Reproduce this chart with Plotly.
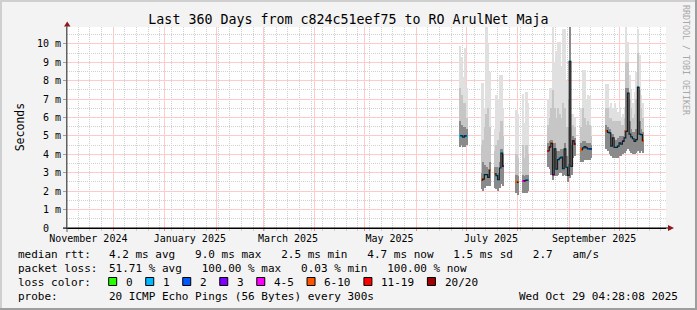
import pandas as pd
import plotly.graph_objects as go

# ---------------- data ----------------
dates = [
    "2025-06-27", "2025-06-28", "2025-06-29", "2025-06-30", "2025-07-01",
    "2025-07-10", "2025-07-11", "2025-07-12", "2025-07-13", "2025-07-14", "2025-07-15",
    "2025-07-18", "2025-07-19", "2025-07-20", "2025-07-21", "2025-07-22", "2025-07-23",
    "2025-07-31", "2025-08-01", "2025-08-04", "2025-08-05", "2025-08-06", "2025-08-07",
    "2025-08-19", "2025-08-20", "2025-08-21", "2025-08-22", "2025-08-23", "2025-08-24",
    "2025-08-25", "2025-08-26", "2025-08-27", "2025-08-28", "2025-08-29", "2025-08-30",
    "2025-08-31", "2025-09-01", "2025-09-02", "2025-09-03", "2025-09-04",
    "2025-09-08", "2025-09-09", "2025-09-10", "2025-09-11", "2025-09-12", "2025-09-13", "2025-09-14",
    "2025-09-23", "2025-09-24", "2025-09-25", "2025-09-26", "2025-09-27", "2025-09-28",
    "2025-09-29", "2025-09-30", "2025-10-01", "2025-10-02", "2025-10-03", "2025-10-04",
    "2025-10-05", "2025-10-06", "2025-10-07", "2025-10-08", "2025-10-09", "2025-10-10",
    "2025-10-11", "2025-10-12", "2025-10-13", "2025-10-14", "2025-10-15",
]
# median round trip time (ms)
median_ms = [
    5.02, 5.00, 4.93, 5.00, 5.00,
    2.60, 2.65, 2.90, 2.90, 2.75, 3.13,
    2.95, 2.85, 2.62, 3.26, 4.07, 3.35,
    2.50, 2.48, 2.55, 2.57, 2.60, 2.60,
    4.20, 4.40, 4.60, 2.90, 4.30, 3.20,
    3.72, 3.80, 3.85, 3.22, 4.30, 3.30,
    2.86, 9.06, 3.35, 4.74, 4.56,
    4.26, 4.35, 4.42, 4.35, 4.30, 4.30, 4.30,
    5.29, 5.20, 5.17, 4.45, 4.90, 4.38,
    4.38, 4.45, 4.62, 4.55, 4.71, 4.90,
    5.25, 7.33, 5.10, 4.95, 4.85, 4.71,
    4.80, 7.64, 5.10, 5.07, 4.75,
]
# loss class index (0:"0" 1:"1" 2:"2" 3:"3" 4:"4-5" 5:"6-10" 6:"11-19" 7:"20/20")
loss_idx = [
    1, 1, 1, 2, 1,
    5, 5, 1, 1, 1, 5,
    5, 1, 1, 1, 1, 3,
    5, 5, 4, 4, 1, 1,
    6, 6, 5, 4, 1, 1,
    1, 1, 1, 1, 1, 1,
    1, 1, 1, 3, 6,
    5, 1, 1, 1, 1, 2, 2,
    5, 1, 1, 1, 1, 1,
    1, 1, 1, 1, 3, 1,
    5, 1, 1, 1, 1, 1,
    1, 1, 1, 1, 5,
]
# smoke: lowest ping, top of dark smoke, top of mid smoke, highest ping (ms)
smoke_low = [
    4.4, 4.5, 4.4, 4.4, 4.5,
    2.1, 2.0, 2.2, 2.3, 2.3, 2.3,
    2.2, 2.1, 2.0, 2.2, 2.4, 2.3,
    1.9, 1.8, 1.9, 1.9, 1.9, 2.0,
    3.3, 3.2, 2.9, 2.6, 2.8, 2.8,
    2.9, 3.0, 3.0, 2.8, 2.9, 2.8,
    2.5, 2.7, 2.9, 3.8, 3.9,
    3.6, 3.6, 3.7, 3.7, 3.7, 3.7, 3.8,
    4.3, 4.2, 4.0, 3.9, 3.8, 3.8,
    3.8, 3.8, 3.9, 3.9, 4.0, 4.1,
    4.2, 4.3, 4.2, 4.1, 4.0, 4.0,
    4.1, 4.2, 4.1, 4.2, 4.1,
]
smoke_dark = [
    5.8, 5.6, 5.5, 5.5, 5.4,
    3.0, 3.6, 3.4, 3.3, 3.2, 3.6,
    3.3, 3.3, 3.0, 3.6, 4.3, 4.0,
    2.9, 2.8, 2.9, 2.8, 2.9, 2.9,
    4.6, 4.7, 4.8, 4.6, 4.6, 4.2,
    4.2, 4.2, 4.3, 4.3, 4.6, 3.9,
    3.5, 10.9, 4.5, 5.0, 4.9,
    4.6, 4.7, 4.7, 4.6, 4.6, 4.6, 4.5,
    5.6, 5.5, 5.4, 5.1, 5.1, 4.8,
    4.8, 4.9, 5.0, 5.0, 5.0, 5.3,
    7.6, 7.6, 5.8, 5.4, 5.2, 5.2,
    5.4, 7.7, 5.8, 5.4, 5.2,
]
smoke_mid = [
    7.6, 7.2, 6.8, 6.8, 6.0,
    4.5, 4.8, 5.5, 6.2, 6.5, 5.5,
    4.2, 4.5, 4.8, 5.2, 5.8, 5.0,
    4.0, 3.8, 4.5, 3.8, 4.5, 4.0,
    5.6, 6.0, 6.5, 7.5, 6.5, 6.0,
    6.5, 6.2, 6.0, 6.8, 6.5, 5.5,
    5.5, 10.9, 5.5, 5.6, 5.5,
    5.5, 6.5, 6.0, 5.6, 5.8, 5.6, 5.0,
    6.5, 6.5, 6.0, 6.0, 5.8, 5.8,
    5.8, 5.8, 5.8, 5.6, 5.6, 6.0,
    9.0, 9.0, 7.0, 6.5, 6.0, 6.2,
    7.0, 9.5, 7.5, 6.5, 6.0,
]
smoke_high = [
    9.9, 9.3, 8.2, 9.8, 7.6,
    7.9, 7.9, 6.5, 10.9, 10.0, 8.5,
    5.4, 7.2, 7.0, 8.3, 8.3, 6.5,
    6.4, 6.2, 7.3, 5.7, 7.4, 6.8,
    7.0, 7.6, 7.6, 10.9, 9.0, 9.6,
    10.1, 10.1, 8.8, 10.8, 10.8, 8.0,
    7.0, 10.9, 6.2, 6.2, 6.0,
    6.5, 8.6, 8.6, 7.0, 7.2, 7.15, 5.5,
    7.8, 7.8, 6.6, 6.8, 6.5, 6.8,
    6.5, 6.3, 6.6, 6.0, 6.2, 6.6,
    10.9, 10.1, 8.3, 7.5, 6.8, 7.4,
    8.5, 10.8, 9.4, 7.2, 6.8,
]

loss_labels = ["0", "1", "2", "3", "4-5", "6-10", "11-19", "20/20"]
loss_colors = ["#26ff00", "#00b8ff", "#0059ff", "#7e00ff", "#ff00ff", "#ff5500", "#ff0000", "#a10000"]

y_tick_vals = [0, 1, 2, 3, 4, 5, 6, 7, 8, 9, 10]
y_tick_text = ["0  ", "1 m", "2 m", "3 m", "4 m", "5 m", "6 m", "7 m", "8 m", "9 m", "10 m"]

x_label_dates = ["2024-11-16", "2025-01-16", "2025-03-16", "2025-05-16", "2025-07-16", "2025-09-16"]
x_label_text = ["November 2024", "January 2025", "March 2025", "May 2025", "July 2025", "September 2025"]

x_start = "2024-11-03 04:28:08"
x_end = "2025-10-29 04:28:08"

title_text = "Last 360 Days from c824c51eef75 to RO ArulNet Maja"
rtt_label = "median rtt:"
rtt_values = "4.2 ms avg   9.0 ms max   2.5 ms min   4.7 ms now   1.5 ms sd   2.7   am/s"
loss_label = "packet loss:"
loss_values = "51.71 % avg   100.00 % max   0.03 % min   100.00 % now"
color_label = "loss color:"
probe_label = "probe:"
probe_values = "20 ICMP Echo Pings (56 Bytes) every 300s"
stamp_text = "Wed Oct 29 04:28:08 2025"
side_text = "RRDTOOL / TOBI OETIKER"

# ---------------- layout helpers ----------------
W, H = 697, 310
ML, MR, MT, MB = 67, 31, 27, 82
PW = W - ML - MR
PH = H - MT - MB
MONO = "DejaVu Sans Mono"


def px(x):
    return (x - ML) / PW


def py(y):
    return (H - MB - y) / PH


def nb(s):
    return s.replace(" ", "\u00a0")


DAY = 86400000
xc = pd.to_datetime(pd.Series(dates)) + pd.Timedelta(hours=12)

fig = go.Figure()


def band(bottom, top, color):
    fig.add_trace(go.Bar(
        x=xc, base=bottom, y=[t - b for t, b in zip(top, bottom)], width=DAY,
        marker=dict(color=color, line=dict(width=0)),
        hoverinfo="skip", showlegend=False,
    ))


band(smoke_low, smoke_high, "#e0e0e0")
band(smoke_low, smoke_mid, "#c6c6c6")
band(smoke_low, smoke_dark, "#8a8a8a")

# connecting median line (break across gaps in the data)
lx, ly = [], []
prev = None
for t, m in zip(xc, median_ms):
    if prev is not None and (t - prev) > pd.Timedelta(days=1):
        lx.append(prev + pd.Timedelta(hours=12))
        ly.append(None)
    lx.append(t)
    ly.append(m)
    prev = t
fig.add_trace(go.Scatter(
    x=lx, y=ly, mode="lines", line=dict(color="#1c1c1c", width=1.2, shape="hvh"),
    connectgaps=False, hoverinfo="skip", showlegend=False,
))

# median coloured by loss
fig.add_trace(go.Bar(
    x=xc, base=[m - 0.06 for m in median_ms], y=[0.12] * len(median_ms), width=DAY,
    marker=dict(color=[loss_colors[i] for i in loss_idx], line=dict(width=0)),
    hoverinfo="skip", showlegend=False,
))

# invisible trace for the label axis
fig.add_trace(go.Scatter(x=[x_start, x_end], y=[0, 0], xaxis="x2", mode="markers",
                         marker=dict(opacity=0), hoverinfo="skip", showlegend=False))

MAJ = "#ffcaca"
MIN = "#d0d0d0"
DASH = "1px,1px"

fig.update_layout(
    width=W, height=H,
    margin=dict(l=ML, r=MR, t=MT, b=MB, pad=0),
    paper_bgcolor="#f3f3f3", plot_bgcolor="#ffffff",
    barmode="overlay", bargap=0,
    font=dict(family=MONO, size=10, color="#000000"),
    title=dict(text=title_text, x=0.5, xref="container", xanchor="center",
               y=1 - 19.5 / H, yanchor="middle", font=dict(family=MONO, size=13.3, color="#000000")),
    xaxis=dict(
        type="date", range=[x_start, x_end], tickmode="linear", tick0="2024-12-01", dtick="M1",
        showticklabels=False, showgrid=True, gridcolor=MAJ, griddash="solid", gridwidth=1,
        ticks="outside", ticklen=2, tickcolor="#ff8080", showline=True, linecolor="#000000", linewidth=1,
        zeroline=False, automargin=False,
        minor=dict(tick0="2024-11-10", dtick=7 * DAY, showgrid=True, gridcolor=MIN, griddash=DASH,
                   ticks="outside", ticklen=2, tickcolor=MIN),
    ),
    xaxis2=dict(
        type="date", range=[x_start, x_end], overlaying="x", anchor="y", side="bottom",
        tickmode="array", tickvals=x_label_dates, ticktext=[nb(t) for t in x_label_text], showgrid=False,
        ticks="", showline=False, zeroline=False, automargin=False, ticklabelstandoff=3,
        tickfont=dict(family=MONO, size=10, color="#000000"),
    ),
    yaxis=dict(
        range=[0, 10.92], tickmode="array", tickvals=y_tick_vals, ticktext=[nb(t) for t in y_tick_text],
        showgrid=True, gridcolor=MAJ, griddash="solid", gridwidth=1,
        ticks="outside", ticklen=3, tickcolor="#a0a0a0",
        showline=True, linecolor="#606060", linewidth=1, zeroline=False, automargin=False,
        tickfont=dict(family=MONO, size=10, color="#000000"),
        minor=dict(dtick=1, tick0=0.5, showgrid=True, gridcolor=MIN, griddash=DASH),
    ),
)

shapes = []
# frame around the picture
shapes.append(dict(type="rect", xref="paper", yref="paper", x0=px(0), x1=px(W), y0=py(0), y1=py(2),
                   fillcolor="#cfcfcf", line=dict(width=0), layer="above"))
shapes.append(dict(type="rect", xref="paper", yref="paper", x0=px(0), x1=px(2), y0=py(0), y1=py(H),
                   fillcolor="#cfcfcf", line=dict(width=0), layer="above"))
shapes.append(dict(type="rect", xref="paper", yref="paper", x0=px(0), x1=px(W), y0=py(H - 2), y1=py(H),
                   fillcolor="#9e9e9e", line=dict(width=0), layer="above"))
shapes.append(dict(type="rect", xref="paper", yref="paper", x0=px(W - 2), x1=px(W), y0=py(0), y1=py(H),
                   fillcolor="#9e9e9e", line=dict(width=0), layer="above"))
# axis extensions and arrows
shapes.append(dict(type="line", xref="paper", yref="paper", x0=px(63), x1=px(670), y0=py(H - MB), y1=py(H - MB),
                   line=dict(color="#000000", width=1), layer="above"))
shapes.append(dict(type="line", xref="paper", yref="paper", x0=px(ML), x1=px(ML), y0=py(H - MB + 4), y1=py(24),
                   line=dict(color="#606060", width=1), layer="above"))
shapes.append(dict(type="path", xref="paper", yref="paper",
                   path=f"M{px(64)},{py(26.5)} L{px(70.5)},{py(26.5)} L{px(67.2)},{py(21.5)} Z",
                   fillcolor="#8b1a1a", line=dict(width=0), layer="above"))
shapes.append(dict(type="path", xref="paper", yref="paper",
                   path=f"M{px(668)},{py(H - MB - 3)} L{px(668)},{py(H - MB + 3)} L{px(674)},{py(H - MB)} Z",
                   fillcolor="#8b1a1a", line=dict(width=0), layer="above"))

annos = []


def text(x, y, s, size=11, color="#000000", xanchor="left", angle=0):
    annos.append(dict(xref="paper", yref="paper", x=px(x), y=py(y), text=nb(s), showarrow=False,
                      xanchor=xanchor, yanchor="middle", textangle=angle,
                      font=dict(family=MONO, size=size, color=color)))


VX = 107.3
text(16, 254.3, rtt_label)
text(VX, 254.3, rtt_values)
text(16, 268.3, loss_label)
text(VX, 268.3, loss_values)
text(16, 282.3, color_label)
text(16, 296.3, probe_label)
text(VX, 296.3, probe_values)
text(680.5, 296.3, stamp_text, xanchor="right")
text(10.8, 127.5, "Seconds", size=11.5, angle=-90)
text(686, 60, side_text, size=8.3, color="#a8a8a8", angle=90, xanchor="center")

# loss colour boxes
bx = 108.7
for lab, col in zip(loss_labels, loss_colors):
    shapes.append(dict(type="rect", xref="paper", yref="paper", x0=px(bx), x1=px(bx + 8),
                       y0=py(285.5), y1=py(277.5), fillcolor=col, line=dict(color="#000000", width=1),
                       layer="above"))
    text(bx + 15.3, 282.3, lab)
    bx += 30.4 + 6.62 * len(lab)

fig.update_layout(shapes=shapes, annotations=annos)
fig.write_html("out.html")
